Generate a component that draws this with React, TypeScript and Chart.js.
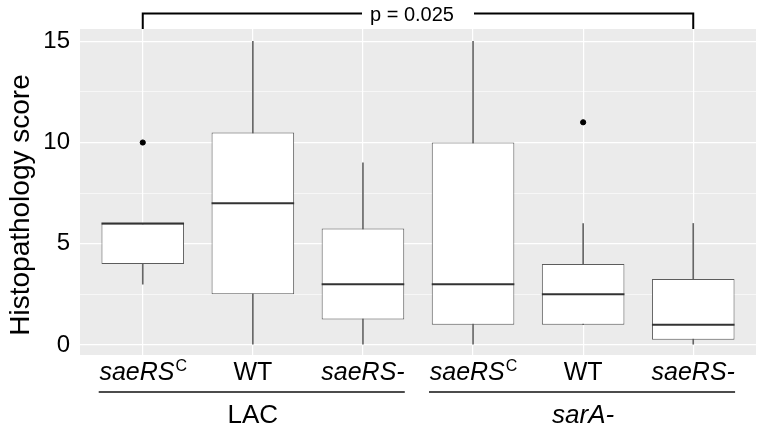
import { useEffect, useRef } from "react";
import { Chart, registerables } from "chart.js";

Chart.register(...registerables);

// ---- data ----
const categoryBase = ["saeRS", "WT", "saeRS-", "saeRS", "WT", "saeRS-"];
const categorySup = ["C", "", "", "C", "", ""];
const categoryItalic = [true, false, true, true, false, true];
const groupNames = ["LAC", "sarA-"];
const groupItalic = [false, true];
const groupFirst = [1, 4];
const groupLast = [3, 6];

const whiskerLow = [3, 0, 0, 0, 1, 0];
const boxLow = [4, 2.5, 1.25, 1, 1, 0.25];
const medians = [6, 7, 3, 3, 2.5, 1];
const boxHigh = [6, 10.5, 5.75, 10, 4, 3.25];
const whiskerHigh = [6, 15, 9, 15, 6, 6];

const outlierCategory = [1, 5];
const outlierValue = [10, 11];

const yTicks = [0, 2.5, 5, 7.5, 10, 12.5, 15];
const yLabelStep = 5;
const yTitle = "Histopathology score";
const pValueText = "p = 0.025";
const comparePair = [1, 6];

const FONT = '"Liberation Sans", Arial, sans-serif';
const TEXT = "#000000";

const annotations = {
  id: "annotations",
  beforeDraw(chart: any) {
    const { ctx, chartArea } = chart;
    ctx.save();
    ctx.fillStyle = "#EBEBEB";
    ctx.fillRect(chartArea.left, chartArea.top, chartArea.right - chartArea.left, chartArea.bottom - chartArea.top);
    ctx.restore();
  },
  afterDatasetsDraw(chart: any) {
    const { ctx } = chart;
    const yScale = chart.scales.y;
    const meta = chart.getDatasetMeta(0);
    ctx.save();
    ctx.strokeStyle = "#333333";
    ctx.lineWidth = 2;
    meta.data.forEach((el: any, i: number) => {
      const y = yScale.getPixelForValue(medians[i]);
      ctx.beginPath();
      ctx.moveTo(el.x - el.width / 2, y);
      ctx.lineTo(el.x + el.width / 2, y);
      ctx.stroke();
    });
    ctx.restore();
  },
  afterDraw(chart: any) {
    const { ctx, chartArea } = chart;
    const xScale = chart.scales.x;
    ctx.save();
    ctx.fillStyle = TEXT;
    ctx.textBaseline = "alphabetic";

    // x category labels
    categoryBase.forEach((base, i) => {
      const cx = xScale.getPixelForValue(i + 1);
      const baseFont = `${categoryItalic[i] ? "italic " : ""}25px ${FONT}`;
      const supFont = `16px ${FONT}`;
      ctx.font = baseFont;
      const wb = ctx.measureText(base).width;
      ctx.font = supFont;
      const ws = categorySup[i] ? ctx.measureText(categorySup[i]).width : 0;
      const start = cx - (wb + ws) / 2;
      const baseline = chartArea.bottom + 25;
      ctx.textAlign = "left";
      ctx.font = baseFont;
      ctx.fillText(base, start, baseline);
      if (categorySup[i]) {
        ctx.font = supFont;
        ctx.fillText(categorySup[i], start + wb + 1, baseline - 9);
      }
    });

    // group lines and labels
    ctx.strokeStyle = "#111";
    ctx.lineWidth = 1.5;
    groupNames.forEach((name, g) => {
      const x1 = xScale.getPixelForValue(groupFirst[g] - 0.4);
      const x2 = xScale.getPixelForValue(groupLast[g] + 0.38);
      const y = chartArea.bottom + 37;
      ctx.beginPath();
      ctx.moveTo(x1, y);
      ctx.lineTo(x2, y);
      ctx.stroke();
      const cx = xScale.getPixelForValue((groupFirst[g] + groupLast[g]) / 2);
      ctx.font = `${groupItalic[g] ? "italic " : ""}26px ${FONT}`;
      ctx.textAlign = "center";
      ctx.fillText(name, cx, chartArea.bottom + 68);
    });

    // significance bracket
    const bx1 = xScale.getPixelForValue(comparePair[0]);
    const bx2 = xScale.getPixelForValue(comparePair[1]);
    const by = 13.5;
    const mid = (bx1 + bx2) / 2;
    ctx.font = `20px ${FONT}`;
    const tw = ctx.measureText(pValueText).width;
    const gap = tw / 2 + 14;
    ctx.strokeStyle = "#000";
    ctx.lineWidth = 2;
    ctx.beginPath();
    ctx.moveTo(bx1, chartArea.top);
    ctx.lineTo(bx1, by);
    ctx.lineTo(mid - gap, by);
    ctx.moveTo(mid + gap, by);
    ctx.lineTo(bx2, by);
    ctx.lineTo(bx2, chartArea.top);
    ctx.stroke();
    ctx.textAlign = "center";
    ctx.fillText(pValueText, mid - 6, 21);

    // y title
    ctx.translate(21, 205);
    ctx.rotate(-Math.PI / 2);
    ctx.font = `28px ${FONT}`;
    ctx.textAlign = "center";
    ctx.textBaseline = "middle";
    ctx.fillText(yTitle, 0, 0);
    ctx.restore();
  },
};

export default function App() {
  const canvasRef = useRef<HTMLCanvasElement | null>(null);

  useEffect(() => {
    const canvas = canvasRef.current;
    if (!canvas) return;
    const boxData = boxLow.map((lo, i) => ({ x: i + 1, y: [lo, boxHigh[i]] }));
    const whiskerData = whiskerLow.map((lo, i) => ({ x: i + 1, y: [lo, whiskerHigh[i]] }));
    const outlierData = outlierCategory.map((c, i) => ({ x: c, y: outlierValue[i] }));

    const chart = new Chart(canvas, {
      type: "bar",
      data: {
        datasets: [
          {
            type: "bar",
            data: boxData as any,
            backgroundColor: "#ffffff",
            borderColor: "#5c5c5c",
            borderWidth: 1,
            borderSkipped: false,
            grouped: false,
            barPercentage: 0.75,
            categoryPercentage: 1,
            order: 1,
          } as any,
          {
            type: "bar",
            data: whiskerData as any,
            backgroundColor: "#666666",
            borderWidth: 0,
            grouped: false,
            barThickness: 1,
            order: 2,
          } as any,
          {
            type: "scatter",
            data: outlierData as any,
            backgroundColor: "#000000",
            borderColor: "#000000",
            pointRadius: 2.6,
            pointStyle: "circle",
            order: 0,
          } as any,
        ],
      },
      options: {
        responsive: false,
        animation: false,
        layout: { padding: { top: 29, right: 6, left: 0, bottom: 0 } },
        plugins: { legend: { display: false }, tooltip: { enabled: false } },
        scales: {
          x: {
            type: "linear",
            offset: false,
            min: 0.43,
            max: 6.57,
            afterBuildTicks: (scale: any) => {
              scale.ticks = categoryBase.map((_, i) => ({ value: i + 1 }));
            },
            afterFit: (scale: any) => {
              scale.height = 80;
            },
            ticks: { display: false },
            grid: { color: "#ffffff", lineWidth: 1.2, drawTicks: false, offset: false },
            border: { display: false },
          },
          y: {
            type: "linear",
            min: -0.5,
            max: 15.61,
            afterBuildTicks: (scale: any) => {
              scale.ticks = yTicks.map((v) => ({ value: v }));
            },
            afterFit: (scale: any) => {
              scale.width = 80;
            },
            ticks: {
              padding: 10,
              color: TEXT,
              font: { family: FONT, size: 24 },
              callback: (v: any) => (Number(v) % yLabelStep === 0 ? String(v) : ""),
            },
            grid: {
              color: "#ffffff",
              drawTicks: false,
              lineWidth: (ctx: any) => (ctx.tick && ctx.tick.value % yLabelStep === 0 ? 1.3 : 0.6),
            },
            border: { display: false },
          },
        },
      } as any,
      plugins: [annotations],
    });
    return () => chart.destroy();
  }, []);

  return (
    <div style={{ position: "fixed", left: 0, top: 0, width: 762, height: 435, background: "#fff" }}>
      <canvas ref={canvasRef} width={762} height={435} />
    </div>
  );
}
